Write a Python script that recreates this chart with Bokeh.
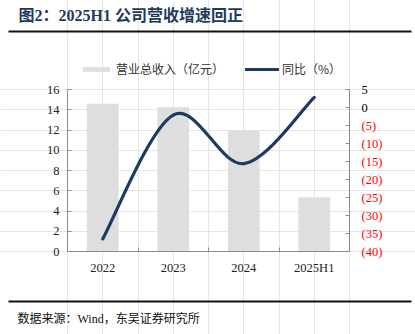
from bokeh.plotting import figure
from bokeh.models import (Range1d, LinearAxis, FixedTicker, Label, Legend, LegendItem,
                          BoxAnnotation)
from bokeh.embed import file_html
from bokeh.resources import INLINE

# ---- data ----
categories = ["2022", "2023", "2024", "2025H1"]
revenue = [14.6, 14.25, 11.95, 5.35]          # 营业总收入（亿元）
yoy = [-36.5, -2.1, -15.6, 2.8]               # 同比（%）
left_ticks = [0, 2, 4, 6, 8, 10, 12, 14, 16]
right_ticks = [5, 0, -5, -10, -15, -20, -25, -30, -35, -40]
right_labels = ["5", "0", "(5)", "(10)", "(15)", "(20)", "(25)", "(30)", "(35)", "(40)"]
right_colors = ["#000000", "#000000"] + ["#ff0000"] * 8

title_text = "图2：2025H1 公司营收增速回正"
source_text = "数据来源：Wind，东吴证券研究所"

SERIF = "Liberation Serif, Noto Sans CJK SC"
CJK = "Noto Sans CJK SC"
NAVY = "#1f3a60"
AXIS_C = "#8c8c8c"

# ---- layout (pixels in the 415x334 canvas) ----
W, H = 415, 334
PL, PR, PT, PB = 67, 349, 89, 251       # plot area edges
LMIN, LMAX = 0, 16
RMIN, RMAX = -40, 5
XMIN, XMAX = -0.5, len(categories) - 0.5

xs_scale = (PR - PL) / (XMAX - XMIN)
ly_scale = (PB - PT) / (LMAX - LMIN)
ry_scale = (PB - PT) / (RMAX - RMIN)

x_range = Range1d(XMIN - PL / xs_scale, XMAX + (W - PR) / xs_scale)
y_range = Range1d(LMIN - (H - PB) / ly_scale, LMAX + PT / ly_scale)
r_range = Range1d(RMIN - (H - PB) / ry_scale, RMAX + PT / ry_scale)

xs = list(range(len(categories)))

p = figure(width=W, height=H, output_backend="svg", toolbar_location=None,
           x_range=x_range, y_range=y_range,
           min_border=0, min_border_left=0, min_border_right=0,
           min_border_top=0, min_border_bottom=0, x_axis_location=None, y_axis_location=None)
p.outline_line_color = None
p.background_fill_color = "white"
p.border_fill_color = "white"
p.extra_y_ranges = {"right": r_range}

# bars
bars = p.vbar(x=xs, top=revenue, width=0.45, fill_color="#dedede", line_color=None)

# smooth line (Catmull-Rom style bezier through data points)
n = len(xs)
x0, y0, x1, y1, cx0, cy0, cx1, cy1 = [], [], [], [], [], [], [], []
for i in range(n - 1):
    pm = max(i - 1, 0)
    pp = min(i + 2, n - 1)
    x0.append(xs[i]); y0.append(yoy[i]); x1.append(xs[i + 1]); y1.append(yoy[i + 1])
    cx0.append(xs[i] + (xs[i + 1] - xs[pm]) / 6); cy0.append(yoy[i] + (yoy[i + 1] - yoy[pm]) / 6)
    cx1.append(xs[i + 1] - (xs[pp] - xs[i]) / 6); cy1.append(yoy[i + 1] - (yoy[pp] - yoy[i]) / 6)
curve = p.bezier(x0=x0, y0=y0, x1=x1, y1=y1, cx0=cx0, cy0=cy0, cx1=cx1, cy1=cy1,
                 line_color=NAVY, line_width=3.2, line_cap="round", y_range_name="right")

# x axis
xa = LinearAxis(fixed_location=LMIN, bounds=(XMIN, XMAX),
                ticker=FixedTicker(ticks=xs, minor_ticks=[0.5, 1.5, 2.5]))
xa.major_label_overrides = {i: c for i, c in enumerate(categories)}
xa.major_tick_in = 0
xa.major_tick_out = 0
xa.minor_tick_in = 4
xa.minor_tick_out = 0
xa.minor_tick_line_color = AXIS_C
xa.axis_line_color = AXIS_C
xa.major_label_text_font = SERIF
xa.major_label_text_font_size = "12.5px"
xa.major_label_text_color = "#222222"
xa.major_label_standoff = 9
p.add_layout(xa, "below")

# left axis
ya = LinearAxis(fixed_location=XMIN, bounds=(LMIN, LMAX), ticker=FixedTicker(ticks=left_ticks))
ya.major_tick_in = 4
ya.major_tick_out = 0
ya.minor_tick_line_color = None
ya.axis_line_color = AXIS_C
ya.major_tick_line_color = AXIS_C
ya.major_label_text_font = SERIF
ya.major_label_text_font_size = "12.5px"
ya.major_label_text_color = "#222222"
ya.major_label_standoff = 8
p.add_layout(ya, "left")

# right axis (labels drawn separately for per-label colour)
ra = LinearAxis(y_range_name="right", fixed_location=XMAX, bounds=(RMIN, RMAX),
                ticker=FixedTicker(ticks=right_ticks))
ra.major_label_overrides = {t: "" for t in right_ticks}
ra.major_tick_in = 4
ra.major_tick_out = 0
ra.minor_tick_line_color = None
ra.axis_line_color = AXIS_C
ra.major_tick_line_color = AXIS_C
p.add_layout(ra, "right")

for t, lab, col in zip(right_ticks, right_labels, right_colors):
    p.add_layout(Label(x=XMAX, y=t, y_range_name="right", text=lab,
                       x_offset=12, text_align="left", text_baseline="middle",
                       text_font=SERIF, text_font_size="12.5px", text_color=col))

# legend
legend = Legend(items=[LegendItem(label="营业总收入（亿元）", renderers=[bars]),
                       LegendItem(label="同比（%）", renderers=[curve])],
                orientation="horizontal", location=(79, H - 77),
                glyph_width=34, glyph_height=6, label_height=14, label_standoff=3,
                spacing=21, padding=0, margin=0, border_line_color=None,
                background_fill_alpha=0,
                label_text_font=CJK, label_text_font_size="12px",
                label_text_color="#333333")
p.add_layout(legend, "center")

# title, rules and source (screen units: from bottom-left of canvas)
p.add_layout(Label(x=18, y=H - 15, x_units="screen", y_units="screen", text=title_text,
                   text_font=SERIF, text_font_style="bold", text_font_size="16px",
                   text_color=NAVY, text_baseline="middle"))
p.add_layout(BoxAnnotation(left=8, right=411, top=H - 30, bottom=H - 32, left_units="screen",
                           right_units="screen", top_units="screen", bottom_units="screen",
                           fill_color="#111111", fill_alpha=1, line_color=None))
p.add_layout(BoxAnnotation(left=8, right=411, top=H - 300, bottom=H - 302, left_units="screen",
                           right_units="screen", top_units="screen", bottom_units="screen",
                           fill_color="#111111", fill_alpha=1, line_color=None))
p.add_layout(Label(x=17, y=H - 318, x_units="screen", y_units="screen", text=source_text,
                   text_font=SERIF, text_font_size="12px", text_color="#111111",
                   text_baseline="middle"))

open("out.html", "w").write(file_html(p, INLINE))
